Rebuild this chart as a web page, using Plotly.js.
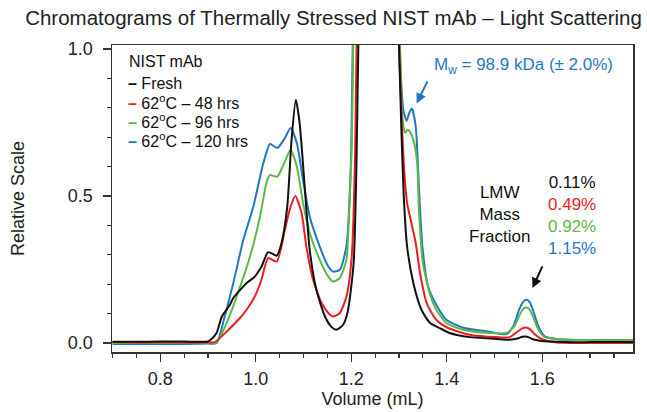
<!DOCTYPE html>
<html>
<head>
<meta charset="utf-8">
<script src="https://cdn.plot.ly/plotly-3.0.1.min.js"></script>
<style>html,body{margin:0;padding:0;background:#fff;}#chart{width:647px;height:412px;}</style>
</head>
<body>
<div id="chart"></div>
<script>
// ---- data ----
const seriesNames = ["Fresh", "62\u00baC \u2013 48 hrs", "62\u00baC \u2013 96 hrs", "62\u00baC \u2013 120 hrs"];
const seriesColors = ["#111111", "#ee1c25", "#5cb948", "#1f78c4"];
const lmwFractions = ["0.11%", "0.49%", "0.92%", "1.15%"];

const freshX = [0.70,0.75,0.80,0.85,0.90,0.905,0.918,0.929,0.946,0.953,0.981,0.998,1.012,1.026,1.044,1.054,1.066,1.075,1.084,1.092,1.103,1.113,1.127,1.145,1.159,1.169,1.183,1.193,1.205,1.211,1.22,1.25,1.27,1.29,1.300,1.305,1.310,1.317,1.330,1.347,1.365,1.386,1.406,1.448,1.504,1.532,1.548,1.558,1.565,1.572,1.582,1.595,1.616,1.65,1.70,1.79];
const freshY = [0.004,0.004,0.005,0.005,0.005,0.010,0.034,0.090,0.130,0.153,0.204,0.226,0.260,0.309,0.297,0.340,0.464,0.691,0.827,0.747,0.521,0.317,0.181,0.090,0.054,0.045,0.062,0.110,0.272,0.612,1.5,3.0,3.0,1.6,1.014,0.725,0.498,0.328,0.204,0.113,0.068,0.050,0.034,0.020,0.014,0.011,0.015,0.021,0.022,0.019,0.012,0.008,0.005,0.003,0.003,0.003];

const h48X = [0.70,0.75,0.80,0.85,0.90,0.914,0.94,0.967,0.981,0.998,1.012,1.026,1.044,1.061,1.073,1.083,1.096,1.106,1.120,1.138,1.152,1.162,1.176,1.190,1.201,1.208,1.211,1.22,1.25,1.27,1.29,1.300,1.310,1.317,1.326,1.335,1.344,1.358,1.378,1.403,1.448,1.504,1.532,1.546,1.558,1.566,1.574,1.584,1.602,1.63,1.70,1.79];
const h48Y = [0.003,0.002,0.003,0.002,0.002,0.003,0.040,0.085,0.113,0.158,0.215,0.289,0.277,0.385,0.464,0.500,0.442,0.328,0.215,0.136,0.102,0.090,0.102,0.158,0.294,0.634,1.0,1.5,3.0,3.0,1.6,1.014,0.612,0.476,0.408,0.340,0.238,0.136,0.079,0.051,0.028,0.020,0.020,0.036,0.050,0.053,0.047,0.030,0.011,0.002,0.0,0.0];

const h96X = [0.70,0.75,0.80,0.85,0.90,0.918,0.939,0.960,0.988,1.009,1.023,1.030,1.045,1.061,1.073,1.086,1.099,1.113,1.134,1.152,1.162,1.176,1.190,1.194,1.201,1.204,1.21,1.25,1.27,1.29,1.302,1.307,1.313,1.318,1.323,1.330,1.338,1.342,1.350,1.365,1.378,1.399,1.434,1.490,1.525,1.542,1.554,1.561,1.567,1.574,1.582,1.592,1.605,1.630,1.70,1.79];
const h96Y = [0.0,0.001,0.0,0.001,0.0,0.001,0.068,0.158,0.294,0.430,0.549,0.571,0.566,0.617,0.657,0.600,0.476,0.374,0.283,0.226,0.209,0.221,0.283,0.385,0.668,1.0,1.6,3.0,3.0,1.6,1.014,0.770,0.715,0.725,0.718,0.691,0.612,0.442,0.272,0.165,0.113,0.068,0.045,0.034,0.034,0.058,0.100,0.117,0.121,0.113,0.084,0.045,0.020,0.014,0.010,0.010];

const h120X = [0.70,0.75,0.80,0.85,0.90,0.918,0.935,0.953,0.974,0.995,1.016,1.030,1.045,1.061,1.073,1.086,1.099,1.113,1.134,1.152,1.162,1.176,1.190,1.199,1.203,1.21,1.25,1.27,1.29,1.300,1.309,1.316,1.322,1.327,1.335,1.342,1.349,1.361,1.378,1.399,1.434,1.490,1.525,1.539,1.552,1.560,1.567,1.574,1.582,1.592,1.605,1.630,1.70,1.79];
const h120Y = [-0.003,-0.003,-0.003,-0.003,-0.002,0.0,0.090,0.204,0.351,0.464,0.612,0.677,0.663,0.697,0.731,0.680,0.555,0.430,0.328,0.260,0.243,0.249,0.330,0.600,1.0,1.6,3.0,3.0,1.6,1.05,0.793,0.756,0.785,0.798,0.736,0.521,0.328,0.192,0.130,0.079,0.052,0.038,0.030,0.056,0.115,0.140,0.147,0.138,0.105,0.056,0.023,0.014,0.010,0.010];

const xs = [freshX, h48X, h96X, h120X];
const ys = [freshY, h48Y, h96Y, h120Y];

const FONT = "Liberation Sans, Arial, Helvetica, sans-serif";

const traces = xs.map((x, i) => ({
  type: "scatter", mode: "lines", name: seriesNames[i],
  x: x, y: ys[i], showlegend: false,
  line: {color: seriesColors[i], width: 2, shape: "spline", smoothing: 0.6}
}));
// draw order: blue, green, red, black on top
const ordered = [traces[3], traces[2], traces[1], traces[0]];

// legend built as text annotations
const legendLines = seriesNames.map((n, i) =>
  '<span style="color:' + seriesColors[i] + '"><b>\u2013</b></span> ' + n.replace("\u00ba", "<sup>o</sup>"));

const annotations = [];
annotations.push({xref: "paper", yref: "paper", x: 0.029, y: 0.946, xanchor: "left", yanchor: "middle",
  text: "NIST mAb", showarrow: false, font: {family: FONT, size: 16, color: "#111"}});
legendLines.forEach((t, i) => {
  annotations.push({xref: "paper", yref: "paper", x: 0.026, y: 0.876 - i * 0.0615, xanchor: "left", yanchor: "middle",
    text: t, showarrow: false, font: {family: FONT, size: 16, color: "#111"}});
});
annotations.push({x: 1.561, y: 0.942, xref: "x", yref: "y", showarrow: false,
  text: "M<sub>w</sub> = 98.9 kDa (\u00b1 2.0%)", font: {family: FONT, size: 17, color: seriesColors[3]}});
annotations.push({x: 1.337, y: 0.815, ax: 1.361, ay: 0.895, xref: "x", yref: "y", axref: "x", ayref: "y",
  text: "", showarrow: true, arrowhead: 2, arrowsize: 1, arrowwidth: 2, arrowcolor: seriesColors[3], standoff: 0});
annotations.push({x: 1.511, y: 0.436, xref: "x", yref: "y", showarrow: false, align: "center",
  text: "LMW<br>Mass<br>Fraction", font: {family: FONT, size: 17, color: "#111"}});
annotations.push({x: 1.662, y: 0.433, xref: "x", yref: "y", showarrow: false, align: "center",
  text: lmwFractions.map((t, i) => '<span style="color:' + seriesColors[i] + '">' + t + '</span>').join("<br>"),
  font: {family: FONT, size: 17, color: "#111"}});
annotations.push({x: 1.5795, y: 0.187, ax: 1.6017, ay: 0.266, xref: "x", yref: "y", axref: "x", ayref: "y",
  text: "", showarrow: true, arrowhead: 2, arrowsize: 1, arrowwidth: 2, arrowcolor: "#111", standoff: 0});

const layout = {
  width: 647, height: 412,
  margin: {l: 112, r: 14, t: 45, b: 60, pad: 0},
  paper_bgcolor: "#fff", plot_bgcolor: "#fff",
  font: {family: FONT, size: 18, color: "#222"},
  title: {text: "Chromatograms of Thermally Stressed NIST mAb \u2013 Light Scattering",
    x: 0.5155, xref: "container", xanchor: "center", y: 0.957, yref: "container", yanchor: "middle",
    font: {family: FONT, size: 20.5, color: "#222"}},
  xaxis: {range: [0.699, 1.79], showgrid: false, zeroline: false,
    showline: true, mirror: true, linecolor: "#333", linewidth: 1.5,
    ticks: "outside", ticklen: 8, tickwidth: 1.2, tickcolor: "#333",
    tick0: 0, dtick: 0.2, tickformat: ".1f", ticklabelstandoff: 2,
    minor: {ticks: "outside", dtick: 0.05, tick0: 0, ticklen: 4, tickwidth: 1.2, tickcolor: "#333"},
    title: {text: "Volume (mL)", standoff: 3, font: {family: FONT, size: 18, color: "#222"}},
    tickfont: {family: FONT, size: 18, color: "#222"}},
  yaxis: {range: [-0.0306, 1.0136], showgrid: false, zeroline: false,
    showline: true, mirror: true, linecolor: "#333", linewidth: 1.5,
    ticks: "outside", ticklen: 8, tickwidth: 1.2, tickcolor: "#333",
    tick0: 0, dtick: 0.5, tickformat: ".1f", ticklabelstandoff: 6,
    minor: {ticks: "outside", dtick: 0.1, tick0: 0, ticklen: 4, tickwidth: 1.2, tickcolor: "#333"},
    title: {text: "Relative Scale", standoff: 38, font: {family: FONT, size: 18, color: "#222"}},
    tickfont: {family: FONT, size: 18, color: "#222"}},
  annotations: annotations
};

Plotly.newPlot("chart", ordered, layout, {displayModeBar: false, staticPlot: true});
</script>
</body>
</html>
